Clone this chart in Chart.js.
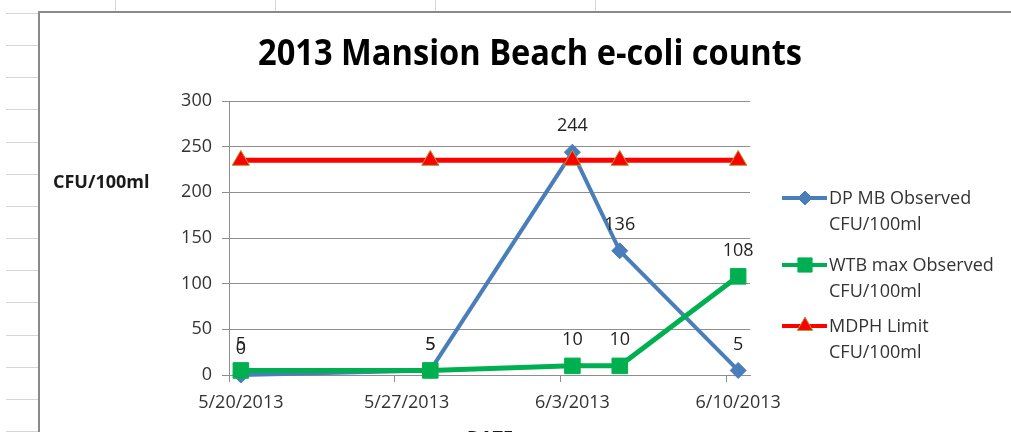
<!DOCTYPE html>
<html><head><meta charset="utf-8">
<script src="https://cdn.jsdelivr.net/npm/chart.js@4.4.0/dist/chart.umd.min.js"></script>
<style>
html,body{margin:0;padding:0;overflow:hidden;background:#fff;width:1011px;height:432px}
canvas{display:block}
</style></head><body>
<canvas id="c" width="1011" height="460"></canvas>
<script>
// ---- data ----
const dates = ['2013-05-20','2013-05-28','2013-06-03','2013-06-05','2013-06-10'];
const dpMbObserved = [0, 5, 244, 136, 5];
const wtbMaxObserved = [5, 5, 10, 10, 108];
const mdphLimit = [235, 235, 235, 235, 235];
const xTickDates = ['2013-05-20','2013-05-27','2013-06-03','2013-06-10'];
const xTickLabels = ['5/20/2013','5/27/2013','6/3/2013','6/10/2013'];
const yMin = 0, yMax = 300, yStep = 50;
const seriesNames = [['DP MB Observed','CFU/100ml'],['WTB max Observed','CFU/100ml'],['MDPH Limit','CFU/100ml']];
const chartTitle = '2013 Mansion Beach e-coli counts';
const yAxisTitle = 'CFU/100ml';
const xAxisTitle = 'DATE';

// ---- helpers ----
const DAY = 864e5;
const t0 = Date.parse(dates[0]);
const dayOf = d => (Date.parse(d) - t0) / DAY;
const days = dates.map(dayOf);
const toPts = arr => arr.map((v, i) => ({x: days[i], y: v}));
const lastDay = days[days.length - 1];

const BLUE = '#4A7EBB', GREEN = '#00B050', RED = '#FF0000';
const GRID = '#8e8e8e', TXT = '#333333';
const tickFont = {family: '"Open Sans", sans-serif', size: 18};

const styles = [
  {color: BLUE, pointStyle: 'rectRot', radius: 8, legendRadius: 7, border: BLUE},
  {color: GREEN, pointStyle: 'rect', radius: 11, legendRadius: 10, border: GREEN},
  {color: RED, pointStyle: 'triangle', radius: 10, legendRadius: 9, border: '#A8A040'}
];

const deco = {
  id: 'deco',
  beforeDraw(chart) {
    const ctx = chart.ctx;
    ctx.save();
    ctx.fillStyle = '#fff';
    ctx.fillRect(0, 0, chart.width, chart.height);
    ctx.strokeStyle = '#d6d6d6';
    ctx.lineWidth = 1;
    for (let k = 0; k < 15; k++) {
      const y = Math.round(13 + k * 32.15) + 0.5;
      ctx.beginPath(); ctx.moveTo(6, y); ctx.lineTo(38, y); ctx.stroke();
    }
    [115, 275, 435, 595].forEach(x => {
      ctx.beginPath(); ctx.moveTo(x + 0.5, 0); ctx.lineTo(x + 0.5, 12); ctx.stroke();
    });
    ctx.strokeStyle = '#8a8a8a';
    ctx.lineWidth = 2;
    ctx.beginPath(); ctx.moveTo(39, chart.height); ctx.lineTo(39, 12); ctx.lineTo(chart.width, 12); ctx.stroke();
    ctx.restore();
  },
  afterDatasetsDraw(chart) {
    const ctx = chart.ctx;
    ctx.save();
    ctx.font = '18px "Open Sans", sans-serif';
    ctx.fillStyle = '#222';
    ctx.textAlign = 'center';
    ctx.textBaseline = 'middle';
    [0, 1].forEach(di => {
      const meta = chart.getDatasetMeta(di);
      const vals = chart.data.datasets[di].data;
      const r = styles[di].pointStyle === 'rect' ? styles[di].radius * Math.SQRT1_2 : styles[di].radius;
      meta.data.forEach((pt, j) => {
        ctx.fillText(String(vals[j].y), pt.x, pt.y - r - 18);
      });
    });
    ctx.restore();
  },
  afterDraw(chart) {
    const ctx = chart.ctx;
    ctx.save();
    ctx.fillStyle = '#000';
    ctx.font = 'bold 35px "Open Sans", sans-serif';
    ctx.textAlign = 'center';
    ctx.textBaseline = 'alphabetic';
    ctx.fillText(chartTitle, 530, 65, 544);
    ctx.font = 'bold 18px "Open Sans", sans-serif';
    ctx.textAlign = 'left';
    ctx.fillStyle = '#1a1a1a';
    ctx.fillText(yAxisTitle, 53, 188, 98);
    ctx.textAlign = 'center';
    ctx.fillText(xAxisTitle, 490, 444);
    const rows = [198, 265, 326];
    ctx.font = '18px "Open Sans", sans-serif';
    ctx.textAlign = 'left';
    ctx.textBaseline = 'middle';
    rows.forEach((y, i) => {
      const s = styles[i];
      ctx.strokeStyle = s.color;
      ctx.lineWidth = 4;
      ctx.beginPath(); ctx.moveTo(782, y); ctx.lineTo(827, y); ctx.stroke();
      ctx.fillStyle = s.color;
      ctx.strokeStyle = s.border;
      ctx.lineWidth = 1;
      Chart.helpers.drawPoint(ctx, {pointStyle: s.pointStyle, radius: s.legendRadius, rotation: 0, borderWidth: 1}, 805, y);
      ctx.fillStyle = TXT;
      ctx.fillText(seriesNames[i][0], 829, y + 1);
      ctx.fillText(seriesNames[i][1], 829, y + 27);
    });
    ctx.restore();
  }
};

const mk = (i, arr, order, bw) => ({
  label: seriesNames[i].join(' '),
  data: toPts(arr),
  borderColor: styles[i].color,
  backgroundColor: styles[i].color,
  borderWidth: bw,
  tension: 0,
  pointStyle: styles[i].pointStyle,
  pointRadius: styles[i].radius,
  pointHoverRadius: styles[i].radius,
  pointBackgroundColor: styles[i].color,
  pointBorderColor: styles[i].border,
  pointBorderWidth: 1,
  order: order,
  clip: false
});

const chart = new Chart(document.getElementById('c'), {
  type: 'line',
  data: {
    datasets: [
      mk(0, dpMbObserved, 2, 4),
      mk(1, wtbMaxObserved, 1, 5),
      mk(2, mdphLimit, 0, 5)
    ]
  },
  options: {
    responsive: false,
    animation: false,
    devicePixelRatio: 1,
    layout: {padding: {left: 0, top: 101, right: 261, bottom: 0}},
    plugins: {legend: {display: false}, title: {display: false}, tooltip: {enabled: false}},
    scales: {
      x: {
        type: 'linear',
        min: -0.5,
        max: lastDay + 0.5,
        afterBuildTicks: s => { s.ticks = xTickDates.map(d => ({value: dayOf(d) - 0.5})); },
        ticks: {autoSkip: false, maxRotation: 0, minRotation: 0, padding: 10, font: tickFont, color: TXT,
          callback: (v, i) => xTickLabels[i]},
        grid: {drawOnChartArea: false, drawTicks: true, tickLength: 7, color: GRID},
        border: {color: GRID, width: 1},
        afterFit: s => { s.height = 85; }
      },
      y: {
        min: yMin, max: yMax,
        ticks: {stepSize: yStep, padding: 10, font: tickFont, color: TXT},
        grid: {color: GRID, tickLength: 7},
        border: {color: GRID, width: 1},
        afterFit: s => { s.width = 229; }
      }
    }
  },
  plugins: [deco]
});
const xs = chart.scales.x;
chart.options.scales.x.ticks.labelOffset = (xs.getPixelForValue(1) - xs.getPixelForValue(0)) / 2;
chart.update('none');
</script>
</body></html>
